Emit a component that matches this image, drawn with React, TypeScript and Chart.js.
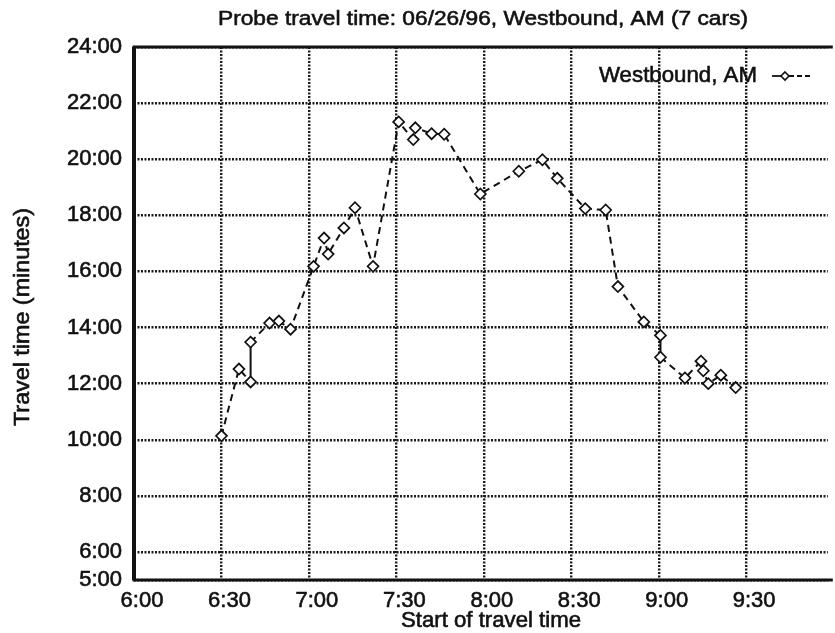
import React, { useEffect, useRef } from "react";
import { Chart, registerables } from "chart.js";
Chart.register(...registerables);

// Start of travel, minutes after midnight
const startTimes = [
  390, 396, 400, 400, 406.5, 409.7, 413.7, 421.6, 425.2, 426.6, 432, 435.8,
  442, 450.8, 455.8, 456.5, 462.1, 466.4, 478.8, 492, 500.1, 505.2, 514.8,
  521.8, 526, 534.9, 540.6, 540.6, 549, 554.5, 555.3, 557, 561.3, 566.4,
];
// Travel time, minutes
const travelTimes = [
  10.14, 12.52, 12.06, 13.48, 14.16, 14.23, 13.94, 16.18, 17.19, 16.62, 17.55,
  18.27, 16.18, 21.33, 20.7, 21.12, 20.91, 20.89, 18.76, 19.57, 19.98, 19.32,
  18.24, 18.19, 15.46, 14.2, 13.72, 12.94, 12.2, 12.8, 12.46, 12.0, 12.3, 11.86,
];
const xTickValues = [360, 390, 420, 450, 480, 510, 540, 570];
const yTickValues = [5, 6, 8, 10, 12, 14, 16, 18, 20, 22, 24];
const titleText = "Probe travel time: 06/26/96, Westbound, AM (7 cars)";
const seriesLabel = "Westbound, AM";
const xAxisTitle = "Start of travel time";
const yAxisTitle = "Travel time (minutes)";

const FONT = '"Liberation Sans", Arial, sans-serif';
const INK = "#111";

function fmtClock(m: number) {
  const h = Math.floor(m / 60);
  const mm = Math.round(m - h * 60);
  return `${h}:${String(mm).padStart(2, "0")}`;
}

// draw text horizontally scaled so it spans targetW (if given)
function drawText(
  ctx: CanvasRenderingContext2D,
  text: string,
  x: number,
  y: number,
  size: number,
  align: "left" | "center" | "right",
  targetW?: number,
  rotate = 0
) {
  ctx.save();
  ctx.font = `${size}px ${FONT}`;
  ctx.fillStyle = INK;
  ctx.strokeStyle = INK;
  ctx.lineWidth = 0.6;
  ctx.textBaseline = "middle";
  ctx.textAlign = align;
  const w = ctx.measureText(text).width;
  const sx = targetW ? targetW / w : 1;
  ctx.translate(x, y);
  if (rotate) ctx.rotate(rotate);
  ctx.scale(sx, 1);
  ctx.fillText(text, 0, 0);
  ctx.strokeText(text, 0, 0);
  ctx.restore();
}

function diamond(ctx: CanvasRenderingContext2D, x: number, y: number, r: number) {
  ctx.beginPath();
  ctx.moveTo(x, y - r);
  ctx.lineTo(x + r, y);
  ctx.lineTo(x, y + r);
  ctx.lineTo(x - r, y);
  ctx.closePath();
  ctx.fillStyle = "#fff";
  ctx.fill();
  ctx.setLineDash([]);
  ctx.lineWidth = 1.6;
  ctx.strokeStyle = INK;
  ctx.stroke();
}

const decorPlugin = {
  id: "decor",
  beforeDatasetsDraw(chart: any) {
    const { ctx, chartArea: a } = chart;
    ctx.save();
    ctx.setLineDash([]);
    ctx.strokeStyle = INK;
    ctx.lineWidth = 3;
    ctx.beginPath();
    ctx.moveTo(a.right + 5, a.top);
    ctx.lineTo(a.left, a.top);
    ctx.lineTo(a.left, a.bottom);
    ctx.lineTo(a.right + 5, a.bottom);
    ctx.stroke();
    ctx.lineWidth = 4;
    ctx.beginPath();
    ctx.moveTo(a.left, a.top);
    ctx.lineTo(a.left, a.bottom);
    ctx.stroke();
    ctx.restore();
  },
  afterDraw(chart: any) {
    const { ctx, chartArea: a, scales } = chart;
    const xs = scales.x;
    const ys = scales.y;
    ctx.save();
    // tick labels
    xTickValues.forEach((v) => {
      drawText(ctx, fmtClock(v), xs.getPixelForValue(v) + 8, 601, 22, "center");
    });
    yTickValues.forEach((v) => {
      drawText(ctx, `${v}:00`, a.left - 12, ys.getPixelForValue(v), 22, "right");
    });
    // titles
    drawText(ctx, titleText, 483, 19, 21, "center", 530);
    drawText(ctx, xAxisTitle, 491, 621, 22, "center", 180);
    drawText(ctx, yAxisTitle, 23, 317, 22, "center", 218, -Math.PI / 2);
    // legend
    drawText(ctx, seriesLabel, 757, 76, 22, "right", 158);
    ctx.setLineDash([]);
    ctx.lineWidth = 1.8;
    ctx.strokeStyle = INK;
    ctx.beginPath();
    ctx.moveTo(772, 76);
    ctx.lineTo(782, 76);
    ctx.stroke();
    ctx.setLineDash([5, 3]);
    ctx.beginPath();
    ctx.moveTo(789, 76);
    ctx.lineTo(812, 76);
    ctx.stroke();
    diamond(ctx, 785, 76, 4);
    ctx.restore();
  },
};

export default function App() {
  const ref = useRef<HTMLCanvasElement>(null);
  useEffect(() => {
    if (!ref.current) return;
    const chart = new Chart(ref.current, {
      type: "line",
      data: {
        datasets: [
          {
            label: seriesLabel,
            data: startTimes.map((x, i) => ({ x, y: travelTimes[i] })),
            borderColor: INK,
            borderWidth: 2,
            borderDash: [7, 5],
            segment: {
              borderDash: (c: any) =>
                c.p0.parsed.x === c.p1.parsed.x ? [] : [7, 5],
            },
            pointStyle: "rectRot",
            pointRadius: 5.5,
            pointBackgroundColor: "#fff",
            pointBorderColor: INK,
            pointBorderWidth: 1.7,
            tension: 0,
            fill: false,
          },
        ],
      },
      options: {
        animation: false,
        responsive: false,
        layout: { padding: { top: 47, right: 0, left: 0, bottom: 0 } },
        plugins: {
          legend: { display: false },
          title: { display: false },
          tooltip: { enabled: false },
        },
        scales: {
          x: {
            type: "linear",
            min: 360,
            max: 598,
            afterBuildTicks: (s: any) => {
              s.ticks = xTickValues.map((v) => ({ value: v }));
            },
            afterFit: (s: any) => {
              s.height = 53;
            },
            grid: {
              color: "#1a1a1a",
              lineWidth: 2.4,
              drawTicks: false,
            },
            border: { display: false, dash: [2, 1.5] },
            ticks: { display: false },
          },
          y: {
            type: "linear",
            min: 5,
            max: 24,
            afterBuildTicks: (s: any) => {
              s.ticks = yTickValues.map((v) => ({ value: v }));
            },
            afterFit: (s: any) => {
              s.width = 134;
            },
            grid: {
              color: "#1a1a1a",
              lineWidth: 2.4,
              drawTicks: false,
            },
            border: { display: false, dash: [2, 1.5] },
            ticks: { display: false },
          },
        },
      },
      plugins: [decorPlugin],
    });
    return () => chart.destroy();
  }, []);
  return (
    <div style={{ position: "fixed", left: 0, top: 0, width: 835, height: 633, background: "#fff" }}>
      <canvas ref={ref} width={835} height={633} />
    </div>
  );
}
